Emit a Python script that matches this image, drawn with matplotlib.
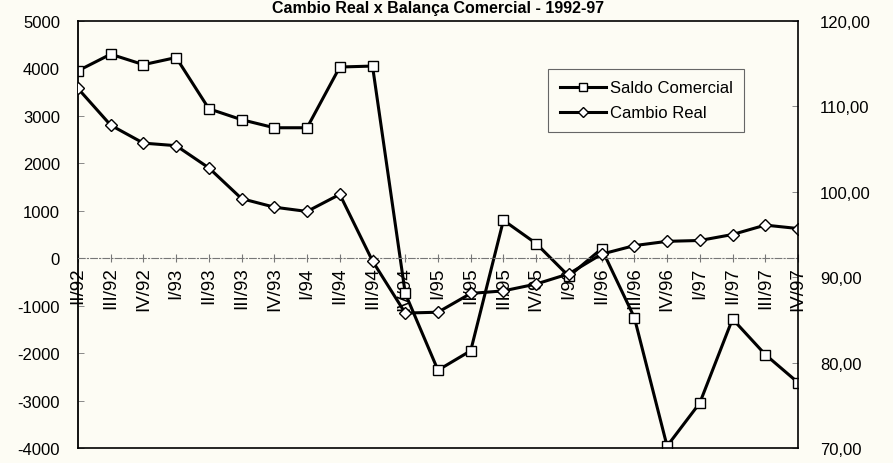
import matplotlib.pyplot as plt
from matplotlib.ticker import FuncFormatter

plt.rcParams['font.family'] = ['Liberation Sans', 'DejaVu Sans']

# quarters 1992-97
quarters = ["II/92", "III/92", "IV/92",
            "I/93", "II/93", "III/93", "IV/93",
            "I/94", "II/94", "III/94", "IV/94",
            "I/95", "II/95", "III/95", "IV/95",
            "I/96", "II/96", "III/96", "IV/96",
            "I/97", "II/97", "III/97", "IV/97"]

# saldo comercial (left axis, US$ milhoes)
saldo = [3950, 4300, 4080, 4230, 3150, 2920, 2750, 2750, 4030, 4050,
         -740, -2360, -1950, 800, 310, -380, 200, -1250, -3960, -3050,
         -1280, -2030, -2620]

# cambio real (right axis, indice)
cambio = [112.1, 107.8, 105.7, 105.4, 102.8, 99.2, 98.2, 97.7, 99.7, 91.9,
          85.8, 85.9, 88.1, 88.4, 89.2, 90.4, 92.7, 93.7, 94.2, 94.3,
          95.0, 96.1, 95.7]

left_ticks = [-4000, -3000, -2000, -1000, 0, 1000, 2000, 3000, 4000, 5000]
right_ticks = [70, 80, 90, 100, 110, 120]

bg = '#fdfcf4'
fig = plt.figure(figsize=(8.93, 4.64), dpi=100, facecolor=bg)
ax = fig.add_axes([0.0873, 0.0323, 0.8063, 0.9203])
ax.set_facecolor(bg)
ax2 = ax.twinx()

x = list(range(len(quarters)))

l1, = ax.plot(x, saldo, color='black', lw=2.2, marker='s', ms=7.5,
              mfc='white', mec='black', mew=1.0, label='Saldo Comercial')
l2, = ax2.plot(x, cambio, color='black', lw=2.2, marker='D', ms=6.5,
               mfc='white', mec='black', mew=1.0, label='Cambio Real')

ax.set_xlim(0, len(quarters) - 1)
ax.set_ylim(-4000, 5000)
ax2.set_ylim(70, 120)

# zero line acts as the category axis
ax.spines['bottom'].set_position(('data', 0))
ax.spines['bottom'].set_color('#777777')
ax.spines['bottom'].set_linestyle((0, (6, 2, 1, 2)))
ax.spines['bottom'].set_linewidth(0.8)
ax.spines['top'].set_visible(False)
ax.spines['right'].set_visible(False)
ax.spines['left'].set_linewidth(1.3)
for s in ['top', 'bottom', 'right']:
    ax2.spines[s].set_linewidth(1.2)
ax2.spines['left'].set_visible(False)

ax.set_xticks(x)
ax.set_xticklabels(quarters, rotation=90, va='top', ha='center', fontsize=13.5)
ax.tick_params(axis='x', direction='inout', length=6, color='#777777', pad=3)

ax.set_yticks(left_ticks)
ax.set_yticklabels([str(v) for v in left_ticks], fontsize=12)
ax.tick_params(axis='y', direction='in', length=4, width=0.6, color='#777777', pad=13)

ax2.set_yticks(right_ticks)
ax2.yaxis.set_major_formatter(FuncFormatter(lambda v, p: '{:.2f}'.format(v).replace('.', ',')))
ax2.tick_params(axis='y', direction='in', length=4, width=0.6, color='#777777', pad=16, labelsize=12)
ax2.tick_params(axis='x', length=0)

leg = ax2.legend([l1, l2], ['Saldo Comercial', 'Cambio Real'], loc='upper left',
                 bbox_to_anchor=(0.653, 0.888), borderaxespad=0, fontsize=12,
                 markerscale=0.75, handlelength=2.8, handletextpad=0.2,
                 borderpad=0.7, labelspacing=0.6, fancybox=False, framealpha=1)
leg.get_frame().set_edgecolor('#666666')
leg.get_frame().set_linewidth(0.8)
leg.get_frame().set_facecolor(bg)

# title sits right at the top edge, as in the scan
fig.text(0.49, 1 - 12.5 / 464, 'Cambio Real x Balança Comercial - 1992-97', ha='center',
         va='baseline', fontsize=11.5, fontweight='bold')

plt.savefig('out.png', dpi=100, facecolor=bg)
